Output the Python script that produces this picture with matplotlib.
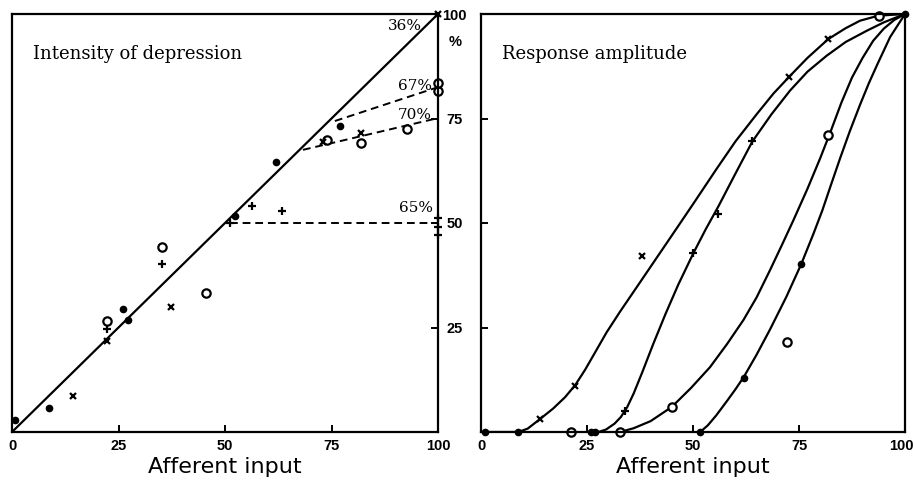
import matplotlib
matplotlib.use('Agg')
import matplotlib.pyplot as plt
from matplotlib.transforms import blended_transform_factory, ScaledTranslation

# ---------------- Left panel: Intensity of depression ----------------
diag_x = [0, 100]
diag_y = [0, 100]
dash65_x = [51.2, 100]
dash65_y = [50.0, 50.0]
dash67_x = [75.8, 100]
dash67_y = [74.4, 82.5]
dash70_x = [68.3, 100]
dash70_y = [67.5, 75.1]

L_dot_x = [0.7, 8.7, 26.1, 27.3, 52.3, 62.0, 77.0]
L_dot_y = [2.9, 5.7, 29.4, 26.8, 51.7, 64.6, 73.2]
L_circ_x = [35.2, 22.3, 45.5, 73.9, 81.9, 92.8, 100, 100]
L_circ_y = [44.3, 26.5, 33.3, 69.9, 69.2, 72.6, 81.5, 83.6]
L_plus_x = [35.3, 22.4, 56.4, 63.3, 51.2, 100, 100, 100]
L_plus_y = [40.2, 24.6, 54.0, 52.9, 50.0, 51.2, 49.0, 47.1]
L_cross_x = [14.4, 22.2, 37.3, 73.0, 82.0, 100]
L_cross_y = [8.6, 21.8, 29.9, 69.4, 71.5, 100]

pct_labels = ['36%', '67%', '70%', '65%']
pct_x = [96.2, 98.6, 98.6, 98.8]
pct_y = [97.1, 82.8, 75.8, 53.6]

# ---------------- Right panel: Response amplitude ----------------
c1_x = [0, 8.8, 11, 13.8, 17, 19.8, 22.2, 24.5, 27, 29.6, 32.8, 37.5, 45, 50,
        55.6, 60, 65, 69, 72.7, 77, 81.9, 86, 89.4, 93.7, 100]
c1_y = [0, 0, 0.8, 3, 5.6, 8.3, 11.2, 14.8, 19.2, 23.8, 28.8, 35.8, 47, 54.5,
        63, 69.5, 76, 81, 85, 89.5, 94, 96.6, 98.4, 99.6, 100]
c2_x = [27.7, 29.5, 31.5, 33, 34.5, 36, 38, 40.6, 43.5, 46.5, 50.1, 53, 56, 60,
        64, 68.5, 72.9, 77, 81.5, 86, 91, 95, 100]
c2_y = [0, 0.6, 2, 3.6, 6, 9.2, 14.2, 21, 28.2, 35.2, 42.8, 48.5, 54, 61.8,
        69.5, 76, 81.7, 86.2, 90, 93.3, 96, 98, 100]
c3_x = [32.8, 36, 40, 45, 49.5, 54, 58, 61.9, 65, 68.2, 71, 73.7, 77, 80, 82.5,
        85, 87.5, 90, 92.5, 95, 97.5, 100]
c3_y = [0, 0.9, 2.6, 6, 10.5, 15.5, 21, 26.8, 32.2, 38.8, 44.8, 50.7, 58.2,
        65.5, 72, 78.8, 84.8, 89.5, 93.6, 96.5, 98.6, 100]
c4_x = [51.7, 53.5, 55.5, 58, 60, 62, 65, 68.2, 72, 75.5, 78.4, 80.5, 82.5,
        84.7, 87, 89.4, 91.5, 93.5, 96.5, 100]
c4_y = [0, 1.6, 4.0, 7.4, 10.2, 13.2, 18.5, 24.6, 32.3, 40.1, 47.4, 53, 59,
        65.5, 72, 78.3, 83.5, 88, 94.5, 100]

R_cross_x = [13.8, 22.2, 37.9, 72.6, 81.8]
R_cross_y = [3.0, 11.0, 42.2, 85.0, 94.0]
R_plus_x = [34.0, 50.1, 56.0, 64.0]
R_plus_y = [5.0, 42.8, 52.2, 69.5]
R_circ_x = [21.2, 32.8, 45.0, 81.8, 72.1, 93.8]
R_circ_y = [0, 0, 6.0, 71.1, 21.6, 99.6]
R_dot_x = [0.9, 8.8, 26.0, 27.0, 51.7, 62.0, 75.5, 100]
R_dot_y = [0, 0, 0, 0, 0, 13.0, 40.1, 100]

x_ticks = [0, 25, 50, 75, 100]
x_ticklabels = ['0', '25', '50', '75', '100']
y_ticks = [25, 50, 75, 100]
y_ticklabels = ['25', '50', '75', '100']

# ---------------- Figure ----------------
fig = plt.figure(figsize=(9.13, 4.83), dpi=100)
W, H = 913, 483
axL = fig.add_axes([12 / W, 1 - 432 / H, 426 / W, 418 / H])
axR = fig.add_axes([481 / W, 1 - 432 / H, 424 / W, 418 / H])

tick_font = dict(family='Liberation Sans', weight='bold', size=10.5)
title_font = dict(family='DejaVu Serif', size=13)
xlabel_font = dict(family='DejaVu Sans', size=16)

for ax in (axL, axR):
    ax.set_xlim(0, 100)
    ax.set_ylim(0, 100)
    for s in ax.spines.values():
        s.set_linewidth(1.6)
        s.set_color('black')
    ax.set_xticks(x_ticks)
    ax.set_xticklabels(x_ticklabels, fontdict=tick_font)
    ax.tick_params(axis='x', direction='in', length=5, width=1.4, pad=5)
    ax.set_xlabel('Afferent input', fontdict=xlabel_font, labelpad=3)

# keep the right-most "100" of the right panel inside the picture
lastlab = axR.get_xticklabels()[-1]
lastlab.set_transform(lastlab.get_transform() + ScaledTranslation(-4 / 100, 0, fig.dpi_scale_trans))

ms_dot = 4.5
ms_circ = 6
ms_pm = 6

# Left panel drawing
axL.plot(diag_x, diag_y, color='black', lw=1.6, solid_capstyle='butt')
for xs, ys in ((dash65_x, dash65_y), (dash67_x, dash67_y), (dash70_x, dash70_y)):
    axL.plot(xs, ys, color='black', lw=1.4, dashes=(4, 2.5))
axL.plot(L_dot_x, L_dot_y, 'o', ms=ms_dot, color='black', ls='none', clip_on=False)
axL.plot(L_circ_x, L_circ_y, 'o', ms=ms_circ, mfc='white', mec='black', mew=1.6, ls='none', clip_on=False)
axL.plot(L_plus_x, L_plus_y, '+', ms=ms_pm, mew=1.6, color='black', ls='none', clip_on=False)
axL.plot(L_cross_x, L_cross_y, 'x', ms=ms_pm - 1, mew=1.6, color='black', ls='none', clip_on=False)
for t, x, y in zip(pct_labels, pct_x, pct_y):
    axL.text(x, y, t, ha='right', va='center', family='DejaVu Serif', size=11)
axL.text(5, 90.5, 'Intensity of depression', ha='left', va='center', **title_font)
axL.set_yticks([25, 50, 75])
axL.set_yticklabels([])
axL.tick_params(axis='y', left=False, right=True, direction='in', length=5, width=1.4)

# Right panel drawing
for xs, ys in ((c1_x, c1_y), (c2_x, c2_y), (c3_x, c3_y), (c4_x, c4_y)):
    axR.plot(xs, ys, color='black', lw=1.6, solid_joinstyle='round')
axR.plot(R_dot_x, R_dot_y, 'o', ms=ms_dot, color='black', ls='none', clip_on=False)
axR.plot(R_circ_x, R_circ_y, 'o', ms=ms_circ, mfc='white', mec='black', mew=1.6, ls='none', clip_on=False)
axR.plot(R_plus_x, R_plus_y, '+', ms=ms_pm, mew=1.6, color='black', ls='none', clip_on=False)
axR.plot(R_cross_x, R_cross_y, 'x', ms=ms_pm - 1, mew=1.6, color='black', ls='none', clip_on=False)
axR.text(5, 90.5, 'Response amplitude', ha='left', va='center', **title_font)
axR.set_yticks(y_ticks)
axR.set_yticklabels(y_ticklabels, fontdict=tick_font)
axR.tick_params(axis='y', direction='in', length=5, width=1.4, pad=19)
for lab in axR.get_yticklabels():
    lab.set_horizontalalignment('center')
trans = blended_transform_factory(axR.transAxes, axR.transData)
axR.text(-26 / 424, 93.3, '%', transform=trans, ha='center', va='center', **tick_font)

fig.savefig('out.png', dpi=100, facecolor='white')
